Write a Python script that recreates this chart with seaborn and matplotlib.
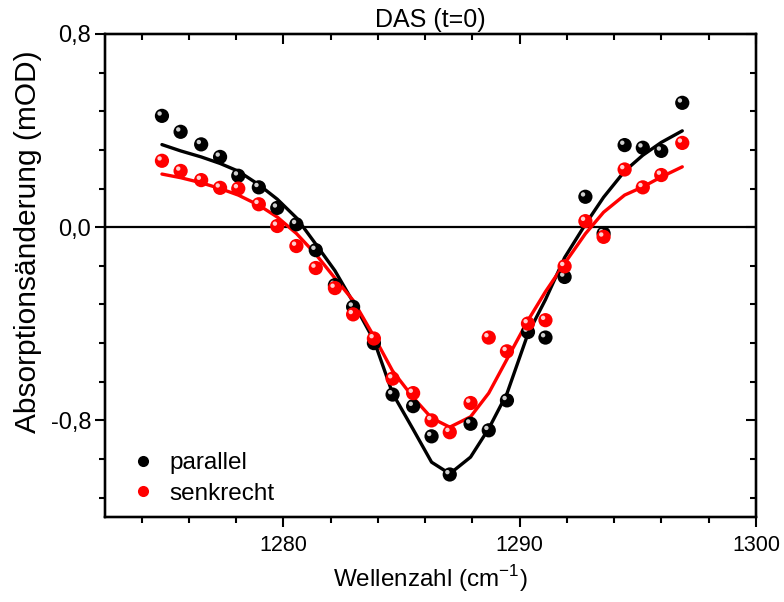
import matplotlib
matplotlib.use("Agg")
import matplotlib.pyplot as plt
import matplotlib.transforms as mtransforms
from matplotlib.ticker import MultipleLocator, FuncFormatter
from matplotlib.lines import Line2D
import seaborn as sns
import pandas as pd

# ---- data ----
wavenumber = [1274.86, 1275.65, 1276.52, 1277.32, 1278.09, 1278.96, 1279.74,
              1280.55, 1281.37, 1282.18, 1282.95, 1283.83, 1284.62, 1285.49,
              1286.27, 1287.04, 1287.92, 1288.69, 1289.46, 1290.35, 1291.09,
              1291.90, 1292.78, 1293.55, 1294.44, 1295.21, 1295.99, 1296.88]
parallel = [0.461, 0.395, 0.343, 0.291, 0.213, 0.165, 0.080, 0.012, -0.095,
            -0.240, -0.330, -0.480, -0.693, -0.741, -0.866, -1.024, -0.814,
            -0.841, -0.717, -0.434, -0.457, -0.206, 0.126, -0.026, 0.340,
            0.329, 0.316, 0.515]
senkrecht = [0.275, 0.233, 0.195, 0.163, 0.160, 0.095, 0.005, -0.078, -0.169,
             -0.252, -0.361, -0.461, -0.627, -0.687, -0.800, -0.849, -0.728,
             -0.457, -0.514, -0.399, -0.385, -0.162, 0.025, -0.040, 0.239,
             0.165, 0.216, 0.349]
fit_parallel = [0.342, 0.316, 0.291, 0.264, 0.232, 0.176, 0.116, 0.039, -0.070,
                -0.180, -0.310, -0.468, -0.688, -0.837, -0.973, -1.021, -0.952,
                -0.834, -0.689, -0.441, -0.300, -0.126, 0.012, 0.124, 0.232,
                0.298, 0.351, 0.399]
fit_senkrecht = [0.220, 0.205, 0.184, 0.160, 0.133, 0.091, 0.042, -0.026, -0.112,
                 -0.211, -0.303, -0.452, -0.595, -0.705, -0.790, -0.828, -0.785,
                 -0.687, -0.547, -0.386, -0.267, -0.150, -0.027, 0.062, 0.133,
                 0.167, 0.208, 0.250]
series_names = ["parallel", "senkrecht"]
series_colors = ["#000000", "#ff0000"]
highlight_colors = ["#d0d0d0", "#ffd0d0"]

df = pd.DataFrame({"x": wavenumber, "parallel": parallel, "senkrecht": senkrecht,
                   "fit_parallel": fit_parallel, "fit_senkrecht": fit_senkrecht})

sns.set_style("ticks")
plt.rcParams["font.family"] = ["Liberation Sans", "DejaVu Sans"]
plt.rcParams["axes.unicode_minus"] = False
plt.rcParams["text.color"] = "black"
plt.rcParams["axes.labelcolor"] = "black"
plt.rcParams["xtick.color"] = "black"
plt.rcParams["ytick.color"] = "black"
plt.rcParams["axes.edgecolor"] = "black"
plt.rcParams["mathtext.fontset"] = "custom"
plt.rcParams["mathtext.rm"] = "Liberation Sans"

fig = plt.figure(figsize=(7.84, 6.02), dpi=100)
ax = fig.add_axes([105 / 784, 1 - 517 / 602, (756 - 105) / 784, (517 - 34) / 602])

ax.axhline(0, color="black", lw=1.6, zorder=1)

for name, col in zip(series_names, series_colors):
    sns.lineplot(data=df, x="x", y="fit_" + name, color=col, lw=2.4, ax=ax,
                 zorder=2, legend=False)

hl_trans = mtransforms.offset_copy(ax.transData, fig=fig, x=-1.7, y=1.7, units="points")
for i, (name, col, hc) in enumerate(zip(series_names, series_colors, highlight_colors)):
    sns.scatterplot(data=df, x="x", y=name, color=col, s=105, edgecolor="none",
                    ax=ax, zorder=3 + 2 * i, legend=False)
    ax.scatter(df["x"], df[name], s=10, color=hc, edgecolor="none",
               transform=hl_trans, zorder=4 + 2 * i)

ax.set_xlim(1272.45, 1300)
ax.set_ylim(-1.2, 0.8)
ax.xaxis.set_major_locator(MultipleLocator(10))
ax.xaxis.set_minor_locator(MultipleLocator(2))
ax.yaxis.set_major_locator(MultipleLocator(0.8))
ax.yaxis.set_minor_locator(MultipleLocator(0.16))
ax.yaxis.set_major_formatter(FuncFormatter(lambda v, p: f"{v:.1f}".replace(".", ",")))

for s in ax.spines.values():
    s.set_linewidth(1.6)
    s.set_visible(True)

ax.tick_params(axis="both", which="major", length=7, width=1.5,
               direction="out", top=False, right=False)
ax.tick_params(axis="both", which="minor", length=4.5, width=1.5,
               direction="out", top=False, right=False)
ax.tick_params(axis="x", which="major", labelsize=15.5, pad=6)
ax.tick_params(axis="y", which="major", labelsize=17, pad=3)

axt = ax.twiny()
axt.set_xlim(ax.get_xlim())
axt.xaxis.set_major_locator(MultipleLocator(10))
axt.xaxis.set_minor_locator(MultipleLocator(2))
axt.tick_params(axis="x", which="major", direction="in", length=7, width=1.5, labeltop=False)
axt.tick_params(axis="x", which="minor", direction="in", length=4.5, width=1.5)
axr = ax.twinx()
axr.set_ylim(ax.get_ylim())
axr.yaxis.set_major_locator(MultipleLocator(0.8))
axr.yaxis.set_minor_locator(MultipleLocator(0.16))
axr.tick_params(axis="y", which="major", direction="in", length=7, width=1.5, labelright=False)
axr.tick_params(axis="y", which="minor", direction="in", length=4.5, width=1.5)
for a in (axt, axr):
    for s in a.spines.values():
        s.set_linewidth(1.6)

ax.set_xlabel("Wellenzahl (cm$^{-1}$)", fontsize=17.5, labelpad=5)
ax.set_ylabel("Absorptionsänderung (mOD)", fontsize=21.5)
ax.yaxis.set_label_coords(-0.097, 0.571)
ax.set_title("DAS (t=0)", fontsize=18, pad=5)

handles = [Line2D([], [], ls="none", marker="o", markersize=8, color=c, markeredgecolor="none")
           for c in series_colors]
ax.legend(handles, series_names, loc="lower left", frameon=False, fontsize=17.5,
          handlelength=0.8, handletextpad=0.7, labelspacing=0.35, borderpad=0.4,
          borderaxespad=0.0, bbox_to_anchor=(0.0286, 0.005))

fig.savefig("out.png", dpi=100)
